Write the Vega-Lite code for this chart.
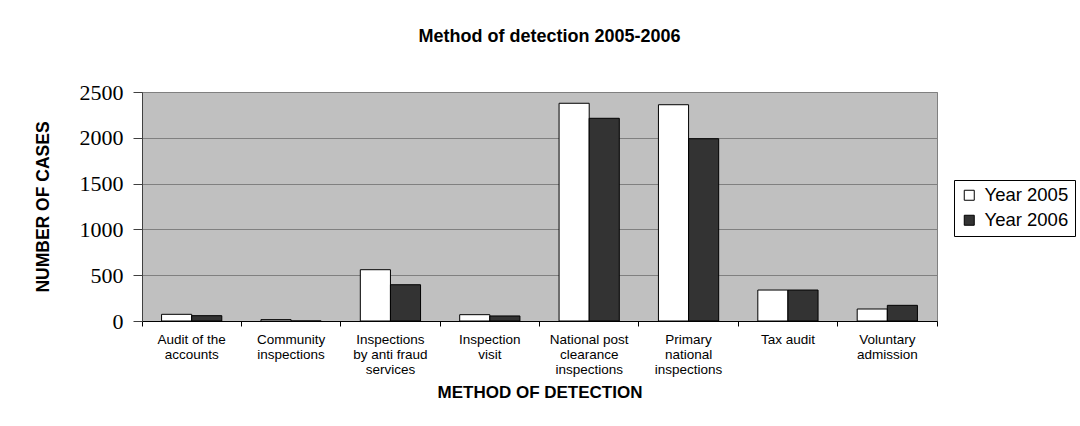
{
  "$schema": "https://vega.github.io/schema/vega-lite/v6.json",
  "autosize": "none",
  "width": 795,
  "height": 229,
  "padding": {"left": 142, "top": 92, "right": 143, "bottom": 105},
  "background": "white",
  "title": {
    "text": "Method of detection 2005-2006",
    "font": "Liberation Sans",
    "fontSize": 18,
    "fontWeight": "bold",
    "color": "black",
    "anchor": "middle",
    "frame": "group",
    "dx": 10,
    "offset": 35
  },
  "data": {
    "values": [
      {"category": "Audit of the accounts", "year": "Year 2005", "cases": 73},
      {"category": "Audit of the accounts", "year": "Year 2006", "cases": 58},
      {"category": "Community inspections", "year": "Year 2005", "cases": 15},
      {"category": "Community inspections", "year": "Year 2006", "cases": 0},
      {"category": "Inspections by anti fraud services", "year": "Year 2005", "cases": 560},
      {"category": "Inspections by anti fraud services", "year": "Year 2006", "cases": 396},
      {"category": "Inspection visit", "year": "Year 2005", "cases": 69},
      {"category": "Inspection visit", "year": "Year 2006", "cases": 55},
      {"category": "National post clearance inspections", "year": "Year 2005", "cases": 2377},
      {"category": "National post clearance inspections", "year": "Year 2006", "cases": 2213},
      {"category": "Primary national inspections", "year": "Year 2005", "cases": 2361},
      {"category": "Primary national inspections", "year": "Year 2006", "cases": 1990},
      {"category": "Tax audit", "year": "Year 2005", "cases": 338},
      {"category": "Tax audit", "year": "Year 2006", "cases": 338},
      {"category": "Voluntary admission", "year": "Year 2005", "cases": 131},
      {"category": "Voluntary admission", "year": "Year 2006", "cases": 171}
    ]
  },
  "mark": {"type": "bar", "stroke": "black", "strokeWidth": 1},
  "encoding": {
    "x": {
      "field": "category",
      "type": "nominal",
      "sort": null,
      "scale": {"paddingInner": 0, "paddingOuter": 0},
      "axis": {
        "title": "METHOD OF DETECTION",
        "titleFont": "Liberation Sans",
        "titleFontSize": 17,
        "titleFontWeight": "bold",
        "titleColor": "black",
        "titlePadding": 9,
        "labelAngle": 0,
        "labelFont": "Liberation Sans",
        "labelFontSize": 13.5,
        "labelColor": "black",
        "labelLineHeight": 15,
        "labelPadding": 6,
        "labelBaseline": "top",
        "bandPosition": 1,
        "tickExtra": true,
        "tickSize": 5,
        "tickColor": "black",
        "domainColor": "black",
        "labelExpr": "datum.label == 'Audit of the accounts' ? ['Audit of the', 'accounts'] : datum.label == 'Community inspections' ? ['Community', 'inspections'] : datum.label == 'Inspections by anti fraud services' ? ['Inspections', 'by anti fraud', 'services'] : datum.label == 'Inspection visit' ? ['Inspection', 'visit'] : datum.label == 'National post clearance inspections' ? ['National post', 'clearance', 'inspections'] : datum.label == 'Primary national inspections' ? ['Primary', 'national', 'inspections'] : datum.label == 'Voluntary admission' ? ['Voluntary', 'admission'] : datum.label"
      }
    },
    "xOffset": {
      "field": "year",
      "type": "nominal",
      "scale": {"paddingInner": 0, "paddingOuter": 0.65}
    },
    "y": {
      "field": "cases",
      "type": "quantitative",
      "scale": {"domain": [0, 2500], "nice": false},
      "axis": {
        "title": "NUMBER OF CASES",
        "titleFont": "Liberation Sans",
        "titleFontSize": 17.5,
        "titleFontWeight": "bold",
        "titleColor": "black",
        "titlePadding": 27,
        "values": [0, 500, 1000, 1500, 2000, 2500],
        "format": "d",
        "labelFont": "Liberation Serif",
        "labelFontSize": 22,
        "labelColor": "black",
        "labelPadding": 10,
        "tickSize": 9,
        "tickColor": "#404040",
        "domainColor": "#404040",
        "grid": true,
        "gridColor": "#808080",
        "gridOpacity": 1
      }
    },
    "color": {
      "field": "year",
      "type": "nominal",
      "scale": {"domain": ["Year 2005", "Year 2006"], "range": ["#ffffff", "#333333"]},
      "legend": {
        "title": null,
        "orient": "none",
        "legendX": 812,
        "legendY": 88,
        "strokeColor": "black",
        "padding": 6,
        "symbolType": "square",
        "symbolSize": 100,
        "symbolStrokeColor": "black",
        "symbolStrokeWidth": 1,
        "labelFont": "Liberation Sans",
        "labelFontSize": 18.5,
        "labelColor": "black",
        "labelOffset": 6,
        "rowPadding": 6
      }
    }
  },
  "config": {
    "view": {"fill": "#c0c0c0", "stroke": "#808080", "strokeWidth": 1}
  }
}
